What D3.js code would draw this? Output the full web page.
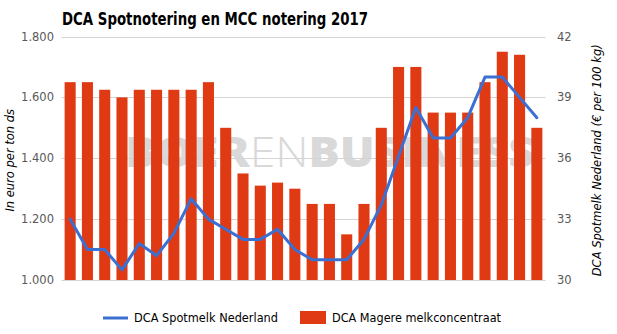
<!DOCTYPE html>
<html>
<head>
<meta charset="utf-8">
<script src="https://cdn.jsdelivr.net/npm/d3@7"></script>
<style>
  html, body { margin: 0; padding: 0; background: #fff; }
  svg { display: block; }
</style>
</head>
<body>
<svg id="chart" width="617" height="334"></svg>
<script>
// Periods (two per month) and values
const periods = d3.range(1, 29).map(i => "P" + i);
const mccValues = [1650, 1650, 1625, 1600, 1625, 1625, 1625, 1625, 1650, 1500,
                   1350, 1310, 1320, 1300, 1250, 1250, 1150, 1250, 1500, 1700,
                   1700, 1550, 1550, 1550, 1650, 1750, 1740, 1500];
const spotValues = [33.0, 31.5, 31.5, 30.5, 31.8, 31.2, 32.3, 34.0, 33.0, 32.5,
                    32.0, 32.0, 32.5, 31.5, 31.0, 31.0, 31.0, 32.0, 33.7, 36.1,
                    38.5, 37.0, 37.0, 38.0, 40.0, 40.0, 39.0, 38.0];
const leftTicks = [1000, 1200, 1400, 1600, 1800];
const rightTicks = [30, 33, 36, 39, 42];

const titleText = "DCA Spotnotering en MCC notering 2017";
const leftTitle = "In euro per ton ds";
const rightTitle = "DCA Spotmelk Nederland (€ per 100 kg)";
const spotName = "DCA Spotmelk Nederland";
const mccName = "DCA Magere melkconcentraat";
const watermarkParts = [["BOER", 800], ["EN", 300], ["BUSINESS", 800]];

const svg = d3.select("#chart");
const font = "'DejaVu Sans', Verdana, sans-serif";
const barColor = "#df3a13";
const lineColor = "#3b6fd2";

const plot = { left: 61.5, right: 545.5, top: 36.5, bottom: 280 };

const x = d3.scaleBand().domain(periods).range([plot.left, plot.right]).paddingInner(0.36).paddingOuter(0.18);
const yL = d3.scaleLinear().domain([1000, 1800]).range([plot.bottom, plot.top]);
const yR = d3.scaleLinear().domain([30, 42]).range([plot.bottom, plot.top]);

// Title
svg.append("text")
  .attr("x", 62).attr("y", 25)
  .attr("font-family", font).attr("font-weight", "bold").attr("font-size", 18)
  .attr("textLength", 306).attr("lengthAdjust", "spacingAndGlyphs")
  .attr("fill", "#000")
  .text(titleText);

// Watermark, squeezed horizontally to span the plot
const wmG = svg.append("g");
const wm = wmG.append("text")
  .attr("x", 0).attr("y", 0)
  .attr("font-family", "'Open Sans', 'DejaVu Sans', sans-serif").attr("font-size", 42)
  .attr("fill", "#d9d9d9");
wm.selectAll("tspan").data(watermarkParts).join("tspan")
  .attr("font-weight", d => d[1])
  .text(d => d[0]);
const wmWidth = wm.node().getComputedTextLength();
wmG.attr("transform", `translate(125, 167) scale(${410 / wmWidth}, 1)`);

// Gridlines
svg.append("g").selectAll("line").data(leftTicks).join("line")
  .attr("x1", plot.left).attr("x2", plot.right)
  .attr("y1", d => Math.round(yL(d)) + 0.5).attr("y2", d => Math.round(yL(d)) + 0.5)
  .attr("stroke", "#d4d4d4").attr("stroke-width", 1);

// Left axis labels
svg.append("g").selectAll("text").data(leftTicks).join("text")
  .attr("x", 54).attr("y", d => yL(d) + 4)
  .attr("text-anchor", "end")
  .attr("font-family", font).attr("font-size", 11.5).attr("fill", "#595959")
  .text(d => d3.format(".3f")(d / 1000));

// Right axis labels
svg.append("g").selectAll("text").data(rightTicks).join("text")
  .attr("x", 557).attr("y", d => yR(d) + 4)
  .attr("font-family", font).attr("font-size", 11.5).attr("fill", "#595959")
  .text(d => d);

// Axis titles
svg.append("text")
  .attr("transform", `translate(14, ${(plot.top + plot.bottom) / 2 + 2}) rotate(-90)`)
  .attr("text-anchor", "middle")
  .attr("font-family", font).attr("font-style", "italic").attr("font-size", 11.5)
  .attr("fill", "#000")
  .text(leftTitle);

svg.append("text")
  .attr("transform", `translate(601, ${(plot.top + plot.bottom) / 2 + 2}) rotate(-90)`)
  .attr("text-anchor", "middle")
  .attr("font-family", font).attr("font-style", "italic").attr("font-size", 11.5)
  .attr("textLength", 232).attr("lengthAdjust", "spacingAndGlyphs")
  .attr("fill", "#000")
  .text(rightTitle);

// Bars
svg.append("g").selectAll("rect").data(mccValues).join("rect")
  .attr("x", (d, i) => x(periods[i]))
  .attr("width", x.bandwidth())
  .attr("y", d => yL(d))
  .attr("height", d => yL(1000) - yL(d))
  .attr("fill", barColor);

// Line
const line = d3.line()
  .x((d, i) => x(periods[i]) + x.bandwidth() / 2)
  .y(d => yR(d));
svg.append("path").datum(spotValues)
  .attr("d", line)
  .attr("fill", "none").attr("stroke", lineColor).attr("stroke-width", 3)
  .attr("stroke-linejoin", "round").attr("stroke-linecap", "round");

// Legend
const lg = svg.append("g");
lg.append("line").attr("x1", 103).attr("x2", 128).attr("y1", 318).attr("y2", 318)
  .attr("stroke", lineColor).attr("stroke-width", 3);
lg.append("text").attr("x", 134).attr("y", 322)
  .attr("font-family", font).attr("font-size", 11.5).attr("fill", "#000")
  .attr("textLength", 144).attr("lengthAdjust", "spacingAndGlyphs")
  .text(spotName);
lg.append("rect").attr("x", 300).attr("y", 311).attr("width", 26).attr("height", 13)
  .attr("fill", barColor);
lg.append("text").attr("x", 332).attr("y", 322)
  .attr("font-family", font).attr("font-size", 11.5).attr("fill", "#000")
  .attr("textLength", 169).attr("lengthAdjust", "spacingAndGlyphs")
  .text(mccName);
</script>
</body>
</html>
